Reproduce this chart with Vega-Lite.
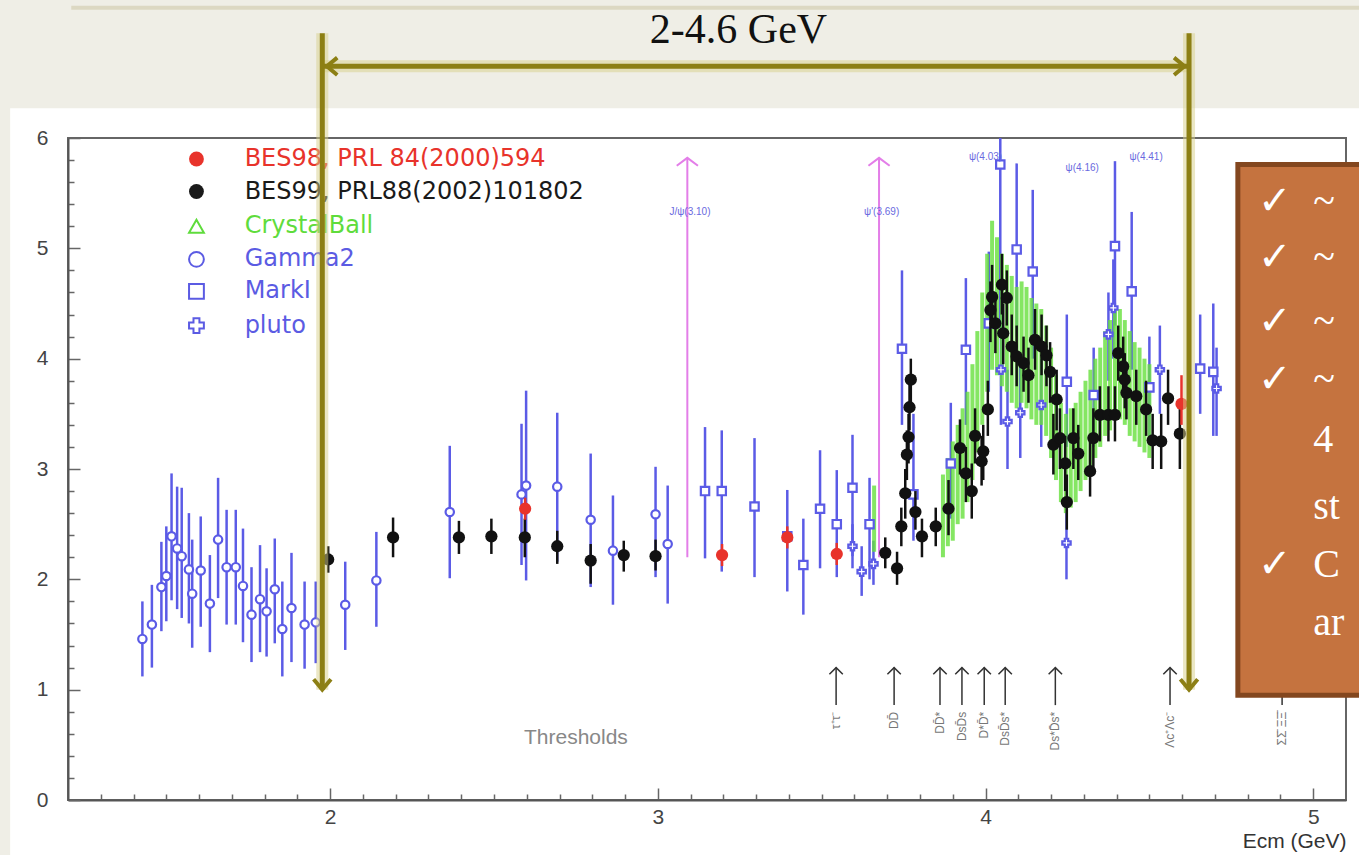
{
  "$schema": "https://vega.github.io/schema/vega-lite/v6.json",
  "width": 1278,
  "height": 662,
  "autosize": {"type": "none"},
  "padding": {"left": 68, "top": 138, "right": 13, "bottom": 55},
  "background": "#efeee6",
  "config": {"view": {"stroke": null}, "font": "Liberation Sans", "axis": {"labelOverlap": false, "labelSeparation": 0}},
  "datasets": {
    "pts": [
      {"s":"Gamma2","x":1.427,"y":1.46,"lo":1.12,"hi":1.80},
      {"s":"Gamma2","x":1.456,"y":1.59,"lo":1.20,"hi":1.95},
      {"s":"Gamma2","x":1.485,"y":1.93,"lo":1.53,"hi":2.34},
      {"s":"Gamma2","x":1.500,"y":2.03,"lo":1.62,"hi":2.48},
      {"s":"Gamma2","x":1.516,"y":2.39,"lo":1.81,"hi":2.96},
      {"s":"Gamma2","x":1.533,"y":2.28,"lo":1.73,"hi":2.84},
      {"s":"Gamma2","x":1.547,"y":2.21,"lo":1.65,"hi":2.83},
      {"s":"Gamma2","x":1.569,"y":2.09,"lo":1.60,"hi":2.60},
      {"s":"Gamma2","x":1.579,"y":1.87,"lo":1.38,"hi":2.36},
      {"s":"Gamma2","x":1.605,"y":2.08,"lo":1.57,"hi":2.57},
      {"s":"Gamma2","x":1.633,"y":1.78,"lo":1.34,"hi":2.22},
      {"s":"Gamma2","x":1.658,"y":2.36,"lo":1.83,"hi":2.92},
      {"s":"Gamma2","x":1.684,"y":2.11,"lo":1.59,"hi":2.63},
      {"s":"Gamma2","x":1.712,"y":2.11,"lo":1.59,"hi":2.63},
      {"s":"Gamma2","x":1.734,"y":1.94,"lo":1.43,"hi":2.46},
      {"s":"Gamma2","x":1.760,"y":1.68,"lo":1.25,"hi":2.11},
      {"s":"Gamma2","x":1.786,"y":1.82,"lo":1.34,"hi":2.31},
      {"s":"Gamma2","x":1.806,"y":1.71,"lo":1.30,"hi":2.10},
      {"s":"Gamma2","x":1.831,"y":1.91,"lo":1.42,"hi":2.37},
      {"s":"Gamma2","x":1.854,"y":1.55,"lo":1.12,"hi":1.98},
      {"s":"Gamma2","x":1.882,"y":1.74,"lo":1.25,"hi":2.24},
      {"s":"Gamma2","x":1.922,"y":1.59,"lo":1.19,"hi":1.98},
      {"s":"Gamma2","x":1.956,"y":1.61,"lo":1.24,"hi":1.98},
      {"s":"Gamma2","x":2.046,"y":1.77,"lo":1.36,"hi":2.16},
      {"s":"Gamma2","x":2.141,"y":1.99,"lo":1.57,"hi":2.43},
      {"s":"Gamma2","x":2.365,"y":2.61,"lo":2.01,"hi":3.21},
      {"s":"Gamma2","x":2.584,"y":2.77,"lo":2.13,"hi":3.41},
      {"s":"Gamma2","x":2.598,"y":2.85,"lo":1.99,"hi":3.71},
      {"s":"Gamma2","x":2.693,"y":2.84,"lo":2.16,"hi":3.51},
      {"s":"Gamma2","x":2.795,"y":2.54,"lo":1.93,"hi":3.14},
      {"s":"Gamma2","x":2.863,"y":2.26,"lo":1.77,"hi":2.76},
      {"s":"Gamma2","x":2.993,"y":2.59,"lo":2.02,"hi":3.02},
      {"s":"Gamma2","x":3.030,"y":2.32,"lo":1.78,"hi":2.85},
      {"s":"MarkI","x":3.144,"y":2.80,"lo":2.19,"hi":3.38},
      {"s":"MarkI","x":3.195,"y":2.80,"lo":2.07,"hi":3.35},
      {"s":"MarkI","x":3.295,"y":2.66,"lo":2.02,"hi":3.28},
      {"s":"MarkI","x":3.395,"y":2.39,"lo":1.89,"hi":2.81},
      {"s":"MarkI","x":3.444,"y":2.13,"lo":1.68,"hi":2.55},
      {"s":"MarkI","x":3.495,"y":2.64,"lo":2.10,"hi":3.17},
      {"s":"MarkI","x":3.546,"y":2.50,"lo":2.02,"hi":2.99},
      {"s":"MarkI","x":3.594,"y":2.83,"lo":2.21,"hi":3.31},
      {"s":"MarkI","x":3.646,"y":2.50,"lo":2.00,"hi":2.92},
      {"s":"MarkI","x":3.745,"y":4.09,"lo":3.40,"hi":4.80},
      {"s":"MarkI","x":3.780,"y":2.77,"lo":2.35,"hi":3.50},
      {"s":"MarkI","x":3.894,"y":3.05,"lo":2.55,"hi":3.60},
      {"s":"MarkI","x":3.940,"y":4.08,"lo":3.40,"hi":4.73},
      {"s":"MarkI","x":4.010,"y":4.32,"lo":3.70,"hi":4.97},
      {"s":"MarkI","x":4.045,"y":5.76,"lo":4.30,"hi":6.00},
      {"s":"MarkI","x":4.095,"y":4.99,"lo":4.20,"hi":5.77},
      {"s":"MarkI","x":4.144,"y":4.79,"lo":4.00,"hi":5.53},
      {"s":"MarkI","x":4.248,"y":3.79,"lo":3.20,"hi":4.40},
      {"s":"MarkI","x":4.330,"y":3.67,"lo":3.20,"hi":4.10},
      {"s":"MarkI","x":4.395,"y":5.02,"lo":4.30,"hi":5.79},
      {"s":"MarkI","x":4.446,"y":4.61,"lo":3.90,"hi":5.33},
      {"s":"MarkI","x":4.500,"y":3.74,"lo":3.30,"hi":4.20},
      {"s":"MarkI","x":4.655,"y":3.91,"lo":3.50,"hi":4.40},
      {"s":"MarkI","x":4.695,"y":3.88,"lo":3.30,"hi":4.50},
      {"s":"pluto","x":3.594,"y":2.30,"lo":2.10,"hi":2.50},
      {"s":"pluto","x":3.622,"y":2.07,"lo":1.85,"hi":2.30},
      {"s":"pluto","x":3.658,"y":2.14,"lo":1.95,"hi":2.35},
      {"s":"pluto","x":4.047,"y":3.90,"lo":3.40,"hi":4.40},
      {"s":"pluto","x":4.067,"y":3.43,"lo":3.00,"hi":3.90},
      {"s":"pluto","x":4.106,"y":3.51,"lo":3.10,"hi":3.95},
      {"s":"pluto","x":4.170,"y":3.58,"lo":3.20,"hi":4.00},
      {"s":"pluto","x":4.247,"y":2.33,"lo":2.00,"hi":2.65},
      {"s":"pluto","x":4.375,"y":4.22,"lo":3.80,"hi":4.60},
      {"s":"pluto","x":4.390,"y":4.46,"lo":4.00,"hi":4.90},
      {"s":"pluto","x":4.532,"y":3.90,"lo":3.50,"hi":4.30},
      {"s":"pluto","x":4.705,"y":3.73,"lo":3.30,"hi":4.10},
      {"s":"CrystalBall","x":3.660,"y":2.50,"lo":2.25,"hi":2.85},
      {"s":"CrystalBall","x":3.870,"y":2.55,"lo":2.20,"hi":2.95},
      {"s":"CrystalBall","x":3.885,"y":2.70,"lo":2.30,"hi":3.10},
      {"s":"CrystalBall","x":3.900,"y":2.80,"lo":2.35,"hi":3.25},
      {"s":"CrystalBall","x":3.915,"y":2.95,"lo":2.50,"hi":3.40},
      {"s":"CrystalBall","x":3.930,"y":3.05,"lo":2.55,"hi":3.55},
      {"s":"CrystalBall","x":3.945,"y":3.20,"lo":2.70,"hi":3.70},
      {"s":"CrystalBall","x":3.960,"y":3.40,"lo":2.90,"hi":3.95},
      {"s":"CrystalBall","x":3.975,"y":3.70,"lo":3.15,"hi":4.25},
      {"s":"CrystalBall","x":3.990,"y":4.00,"lo":3.40,"hi":4.60},
      {"s":"CrystalBall","x":4.005,"y":4.30,"lo":3.70,"hi":4.95},
      {"s":"CrystalBall","x":4.020,"y":4.55,"lo":3.90,"hi":5.25},
      {"s":"CrystalBall","x":4.035,"y":4.50,"lo":3.85,"hi":5.10},
      {"s":"CrystalBall","x":4.050,"y":4.35,"lo":3.75,"hi":4.95},
      {"s":"CrystalBall","x":4.065,"y":4.25,"lo":3.70,"hi":4.85},
      {"s":"CrystalBall","x":4.080,"y":4.15,"lo":3.60,"hi":4.75},
      {"s":"CrystalBall","x":4.095,"y":4.10,"lo":3.55,"hi":4.65},
      {"s":"CrystalBall","x":4.110,"y":4.15,"lo":3.60,"hi":4.70},
      {"s":"CrystalBall","x":4.125,"y":4.10,"lo":3.55,"hi":4.65},
      {"s":"CrystalBall","x":4.140,"y":4.00,"lo":3.45,"hi":4.55},
      {"s":"CrystalBall","x":4.155,"y":3.95,"lo":3.40,"hi":4.50},
      {"s":"CrystalBall","x":4.170,"y":3.90,"lo":3.40,"hi":4.45},
      {"s":"CrystalBall","x":4.185,"y":3.80,"lo":3.30,"hi":4.30},
      {"s":"CrystalBall","x":4.200,"y":3.60,"lo":3.10,"hi":4.10},
      {"s":"CrystalBall","x":4.215,"y":3.35,"lo":2.90,"hi":3.85},
      {"s":"CrystalBall","x":4.230,"y":3.15,"lo":2.70,"hi":3.60},
      {"s":"CrystalBall","x":4.245,"y":3.05,"lo":2.60,"hi":3.50},
      {"s":"CrystalBall","x":4.260,"y":3.10,"lo":2.65,"hi":3.55},
      {"s":"CrystalBall","x":4.275,"y":3.15,"lo":2.70,"hi":3.60},
      {"s":"CrystalBall","x":4.290,"y":3.25,"lo":2.80,"hi":3.70},
      {"s":"CrystalBall","x":4.305,"y":3.35,"lo":2.90,"hi":3.80},
      {"s":"CrystalBall","x":4.320,"y":3.45,"lo":3.00,"hi":3.90},
      {"s":"CrystalBall","x":4.335,"y":3.55,"lo":3.10,"hi":4.00},
      {"s":"CrystalBall","x":4.350,"y":3.65,"lo":3.20,"hi":4.10},
      {"s":"CrystalBall","x":4.365,"y":3.75,"lo":3.30,"hi":4.25},
      {"s":"CrystalBall","x":4.380,"y":3.85,"lo":3.35,"hi":4.35},
      {"s":"CrystalBall","x":4.395,"y":3.95,"lo":3.45,"hi":4.45},
      {"s":"CrystalBall","x":4.410,"y":3.95,"lo":3.45,"hi":4.45},
      {"s":"CrystalBall","x":4.425,"y":3.85,"lo":3.40,"hi":4.35},
      {"s":"CrystalBall","x":4.440,"y":3.75,"lo":3.30,"hi":4.25},
      {"s":"CrystalBall","x":4.455,"y":3.70,"lo":3.25,"hi":4.15},
      {"s":"CrystalBall","x":4.470,"y":3.65,"lo":3.20,"hi":4.10},
      {"s":"CrystalBall","x":4.485,"y":3.55,"lo":3.15,"hi":4.00},
      {"s":"CrystalBall","x":4.500,"y":3.50,"lo":3.10,"hi":3.95},
      {"s":"BES99","x":1.994,"y":2.18,"lo":2.06,"hi":2.30},
      {"s":"BES99","x":2.192,"y":2.38,"lo":2.20,"hi":2.56},
      {"s":"BES99","x":2.393,"y":2.38,"lo":2.23,"hi":2.53},
      {"s":"BES99","x":2.492,"y":2.39,"lo":2.23,"hi":2.55},
      {"s":"BES99","x":2.594,"y":2.38,"lo":2.20,"hi":2.55},
      {"s":"BES99","x":2.693,"y":2.30,"lo":2.14,"hi":2.44},
      {"s":"BES99","x":2.795,"y":2.17,"lo":1.96,"hi":2.32},
      {"s":"BES99","x":2.896,"y":2.22,"lo":2.07,"hi":2.35},
      {"s":"BES99","x":2.993,"y":2.21,"lo":2.08,"hi":2.36},
      {"s":"BES99","x":3.694,"y":2.24,"lo":2.10,"hi":2.38},
      {"s":"BES99","x":3.730,"y":2.10,"lo":1.95,"hi":2.25},
      {"s":"BES99","x":3.743,"y":2.48,"lo":2.30,"hi":2.65},
      {"s":"BES99","x":3.755,"y":2.78,"lo":2.55,"hi":3.00},
      {"s":"BES99","x":3.760,"y":3.13,"lo":2.90,"hi":3.35},
      {"s":"BES99","x":3.765,"y":3.29,"lo":3.05,"hi":3.50},
      {"s":"BES99","x":3.768,"y":3.56,"lo":3.35,"hi":3.80},
      {"s":"BES99","x":3.772,"y":3.81,"lo":3.60,"hi":4.00},
      {"s":"BES99","x":3.786,"y":2.61,"lo":2.45,"hi":2.80},
      {"s":"BES99","x":3.806,"y":2.39,"lo":2.20,"hi":2.55},
      {"s":"BES99","x":3.848,"y":2.48,"lo":2.30,"hi":2.65},
      {"s":"BES99","x":3.887,"y":2.64,"lo":2.40,"hi":2.90},
      {"s":"BES99","x":3.922,"y":3.19,"lo":2.95,"hi":3.45},
      {"s":"BES99","x":3.940,"y":2.96,"lo":2.70,"hi":3.20},
      {"s":"BES99","x":3.958,"y":2.80,"lo":2.55,"hi":3.05},
      {"s":"BES99","x":3.968,"y":3.30,"lo":3.05,"hi":3.55},
      {"s":"BES99","x":3.988,"y":3.07,"lo":2.85,"hi":3.30},
      {"s":"BES99","x":3.993,"y":3.16,"lo":2.90,"hi":3.40},
      {"s":"BES99","x":4.007,"y":3.54,"lo":3.30,"hi":3.80},
      {"s":"BES99","x":4.015,"y":4.44,"lo":4.15,"hi":4.70},
      {"s":"BES99","x":4.020,"y":4.56,"lo":4.30,"hi":4.85},
      {"s":"BES99","x":4.030,"y":4.32,"lo":4.05,"hi":4.60},
      {"s":"BES99","x":4.050,"y":4.67,"lo":4.40,"hi":4.95},
      {"s":"BES99","x":4.054,"y":4.23,"lo":3.95,"hi":4.50},
      {"s":"BES99","x":4.065,"y":4.55,"lo":4.30,"hi":4.80},
      {"s":"BES99","x":4.080,"y":4.11,"lo":3.85,"hi":4.40},
      {"s":"BES99","x":4.095,"y":4.02,"lo":3.75,"hi":4.30},
      {"s":"BES99","x":4.116,"y":3.96,"lo":3.70,"hi":4.20},
      {"s":"BES99","x":4.131,"y":3.85,"lo":3.60,"hi":4.10},
      {"s":"BES99","x":4.151,"y":4.17,"lo":3.90,"hi":4.45},
      {"s":"BES99","x":4.171,"y":4.11,"lo":3.85,"hi":4.40},
      {"s":"BES99","x":4.186,"y":4.03,"lo":3.75,"hi":4.30},
      {"s":"BES99","x":4.197,"y":3.88,"lo":3.60,"hi":4.15},
      {"s":"BES99","x":4.207,"y":3.22,"lo":2.95,"hi":3.50},
      {"s":"BES99","x":4.217,"y":3.63,"lo":3.35,"hi":3.90},
      {"s":"BES99","x":4.227,"y":3.28,"lo":3.00,"hi":3.55},
      {"s":"BES99","x":4.243,"y":3.05,"lo":2.80,"hi":3.30},
      {"s":"BES99","x":4.248,"y":2.70,"lo":2.45,"hi":2.95},
      {"s":"BES99","x":4.268,"y":3.28,"lo":3.00,"hi":3.55},
      {"s":"BES99","x":4.283,"y":3.14,"lo":2.90,"hi":3.40},
      {"s":"BES99","x":4.319,"y":2.98,"lo":2.75,"hi":3.25},
      {"s":"BES99","x":4.329,"y":3.28,"lo":3.00,"hi":3.55},
      {"s":"BES99","x":4.349,"y":3.49,"lo":3.25,"hi":3.75},
      {"s":"BES99","x":4.375,"y":3.49,"lo":3.25,"hi":3.75},
      {"s":"BES99","x":4.395,"y":3.49,"lo":3.25,"hi":3.75},
      {"s":"BES99","x":4.405,"y":4.05,"lo":3.80,"hi":4.30},
      {"s":"BES99","x":4.420,"y":3.93,"lo":3.70,"hi":4.20},
      {"s":"BES99","x":4.425,"y":3.81,"lo":3.55,"hi":4.05},
      {"s":"BES99","x":4.430,"y":3.69,"lo":3.45,"hi":3.95},
      {"s":"BES99","x":4.460,"y":3.66,"lo":3.40,"hi":3.90},
      {"s":"BES99","x":4.490,"y":3.54,"lo":3.30,"hi":3.80},
      {"s":"BES99","x":4.510,"y":3.26,"lo":3.00,"hi":3.50},
      {"s":"BES99","x":4.536,"y":3.25,"lo":3.00,"hi":3.50},
      {"s":"BES99","x":4.557,"y":3.64,"lo":3.40,"hi":3.90},
      {"s":"BES99","x":4.593,"y":3.32,"lo":3.00,"hi":3.60},
      {"s":"BES98","x":2.595,"y":2.64,"lo":2.54,"hi":2.74},
      {"s":"BES98","x":3.196,"y":2.22,"lo":2.12,"hi":2.32},
      {"s":"BES98","x":3.395,"y":2.38,"lo":2.28,"hi":2.48},
      {"s":"BES98","x":3.546,"y":2.23,"lo":2.13,"hi":2.33},
      {"s":"BES98","x":4.598,"y":3.59,"lo":3.40,"hi":3.85}
    ],
    "thr": [
      {"x":3.544,"lab":"τ⁺τ⁻"},
      {"x":3.721,"lab":"DD̄"},
      {"x":3.861,"lab":"DD̄*"},
      {"x":3.928,"lab":"DsD̄s"},
      {"x":3.996,"lab":"D*D̄*"},
      {"x":4.060,"lab":"DsD̄s*"},
      {"x":4.213,"lab":"Ds*D̄s*"},
      {"x":4.563,"lab":"Λc⁺Λc⁻"},
      {"x":4.905,"lab":"ΣΣ̄ ΞΞ̄"}
    ],
    "leg": [
      {"s":"BES98","label":"BES98, PRL 84(2000)594","ly":5.81,"f":"y"},
      {"s":"BES99","label":"BES99, PRL88(2002)101802","ly":5.515,"f":"y"},
      {"s":"CrystalBall","label":"CrystalBall","ly":5.2,"f":"n"},
      {"s":"Gamma2","label":"Gamma2","ly":4.9,"f":"n"},
      {"s":"MarkI","label":"MarkI","ly":4.61,"f":"n"},
      {"s":"pluto","label":"pluto","ly":4.3,"f":"n"}
    ]
  },
  "layer": [
    {
      "data": {"values": [{"x":1.0235,"x2":5.25,"y":-0.75,"y2":6.27}]},
      "mark": {"type": "rect", "fill": "#ffffff"},
      "encoding": {
        "x": {"field": "x", "type": "quantitative",
          "scale": {"domain": [1.2, 5.1], "nice": false, "zero": false},
          "axis": {
            "title": "Ecm (GeV)", "titleAnchor": "end", "titleAlign": "right", "titleFontWeight": "normal",
            "titleFontSize": 21, "titleColor": "#333", "titlePadding": 3, "titleFont": "Liberation Sans",
            "tickCount": 200,
            "values": [1.3,1.4,1.5,1.6,1.7,1.8,1.9,2,2.1,2.2,2.3,2.4,2.5,2.6,2.7,2.8,2.9,3,3.1,3.2,3.3,3.4,3.5,3.6,3.7,3.8,3.9,4,4.1,4.2,4.3,4.4,4.5,4.6,4.7,4.8,4.9,5],
            "labelExpr": "abs(datum.value-round(datum.value))<0.001 ? format(datum.value,'d') : ''",
            "labelFontSize": {"condition": {"test": "abs(datum.value-round(datum.value))<0.001", "value": 21}, "value": 1},
            "labelColor": "#444", "labelFont": "Liberation Sans", "labelPadding": 18,
            "labelOverlap": false, "labelFlush": false, "labelSeparation": 0,
            "tickColor": "#666", "tickWidth": 1.5,
            "tickSize": {"condition": {"test": "abs(datum.value-round(datum.value))<0.001", "value": -12}, "value": -6},
            "domainColor": "#555", "domainWidth": 2, "grid": false, "zindex": 2
          }},
        "x2": {"field": "x2"},
        "y": {"field": "y", "type": "quantitative",
          "scale": {"domain": [0, 6], "nice": false, "zero": false},
          "axis": {
            "title": null,
            "tickCount": 200,
            "values": [0,0.2,0.4,0.6,0.8,1,1.2,1.4,1.6,1.8,2,2.2,2.4,2.6,2.8,3,3.2,3.4,3.6,3.8,4,4.2,4.4,4.6,4.8,5,5.2,5.4,5.6,5.8,6],
            "labelExpr": "abs(datum.value-round(datum.value))<0.001 ? format(datum.value,'d') : ''",
            "labelFontSize": {"condition": {"test": "abs(datum.value-round(datum.value))<0.001", "value": 21}, "value": 1},
            "labelColor": "#444", "labelFont": "Liberation Sans", "labelPadding": 32,
            "labelOverlap": false, "labelFlush": false, "labelSeparation": 0,
            "tickColor": "#666", "tickWidth": 1.5,
            "tickSize": {"condition": {"test": "abs(datum.value-round(datum.value))<0.001", "value": -12}, "value": -6},
            "domainColor": "#555", "domainWidth": 2, "grid": false, "zindex": 2
          }},
        "y2": {"field": "y2"}
      }
    },
    {
      "data": {"values": [{"x":1.21,"x2":5.25,"y":7.18}]},
      "mark": {"type": "rule", "color": "#dcd8c2", "strokeWidth": 4},
      "encoding": {"x": {"field": "x", "type": "quantitative"}, "x2": {"field": "x2"}, "y": {"field": "y", "type": "quantitative"}}
    },
    {
      "data": {"values": [{"x":1.2,"x2":5.1,"y":0,"y2":6}]},
      "mark": {"type": "rect", "fillOpacity": 0, "stroke": "#666", "strokeWidth": 2},
      "encoding": {"x": {"field": "x", "type": "quantitative"}, "x2": {"field": "x2"}, "y": {"field": "y", "type": "quantitative"}, "y2": {"field": "y2"}}
    },
    {
      "data": {"values": [{"x":3.09,"lo":2.2,"hi":5.82},{"x":3.675,"lo":2.2,"hi":5.82}]},
      "layer": [
        {"mark": {"type": "rule", "color": "#e37ee8", "strokeWidth": 2},
         "encoding": {"x": {"field": "x", "type": "quantitative"}, "y": {"field": "lo", "type": "quantitative"}, "y2": {"field": "hi"}}},
        {"mark": {"type": "point", "shape": "M-1,0.75L0,0L1,0.75", "filled": false, "color": "#e37ee8", "strokeWidth": 2, "size": 450, "opacity": 1},
         "encoding": {"x": {"field": "x", "type": "quantitative"}, "y": {"field": "hi", "type": "quantitative"}}}
      ]
    },
    {
      "data": {"name": "pts"},
      "transform": [{"filter": "datum.s==='Gamma2' || datum.s==='MarkI' || datum.s==='pluto'"}],
      "mark": {"type": "rule", "color": "#5b5be6", "strokeWidth": 2.5},
      "encoding": {"x": {"field": "x", "type": "quantitative"}, "y": {"field": "lo", "type": "quantitative"}, "y2": {"field": "hi"}}
    },
    {
      "data": {"name": "pts"},
      "transform": [{"filter": "datum.s==='CrystalBall'"}],
      "mark": {"type": "rule", "color": "#66e03c", "strokeWidth": 4, "opacity": 0.8},
      "encoding": {"x": {"field": "x", "type": "quantitative"}, "y": {"field": "lo", "type": "quantitative"}, "y2": {"field": "hi"}}
    },
    {
      "data": {"name": "pts"},
      "transform": [{"filter": "datum.s==='Gamma2' || datum.s==='MarkI' || datum.s==='pluto'"}],
      "mark": {"type": "point", "filled": true, "fill": "#ffffff", "stroke": "#5b5be6", "strokeWidth": 2.2, "size": 70, "opacity": 1},
      "encoding": {
        "x": {"field": "x", "type": "quantitative"},
        "y": {"field": "y", "type": "quantitative"},
        "shape": {"field": "s", "type": "nominal", "legend": null,
          "scale": {"domain": ["BES98","BES99","CrystalBall","Gamma2","MarkI","pluto"], "range": ["circle","circle","triangle-up","circle","square","cross"]}}
      }
    },
    {
      "data": {"name": "pts"},
      "transform": [{"filter": "datum.s==='BES99'"}],
      "layer": [
        {"mark": {"type": "rule", "color": "#111", "strokeWidth": 2.5},
         "encoding": {"x": {"field": "x", "type": "quantitative"}, "y": {"field": "lo", "type": "quantitative"}, "y2": {"field": "hi"}}},
        {"mark": {"type": "point", "shape": "circle", "filled": true, "color": "#111", "size": 150, "opacity": 1},
         "encoding": {"x": {"field": "x", "type": "quantitative"}, "y": {"field": "y", "type": "quantitative"}}}
      ]
    },
    {
      "data": {"name": "pts"},
      "transform": [{"filter": "datum.s==='BES98'"}],
      "layer": [
        {"mark": {"type": "rule", "color": "#e8332b", "strokeWidth": 2.5},
         "encoding": {"x": {"field": "x", "type": "quantitative"}, "y": {"field": "lo", "type": "quantitative"}, "y2": {"field": "hi"}}},
        {"mark": {"type": "point", "shape": "circle", "filled": true, "color": "#e8332b", "size": 150, "opacity": 1},
         "encoding": {"x": {"field": "x", "type": "quantitative"}, "y": {"field": "y", "type": "quantitative"}}}
      ]
    },
    {
      "data": {"name": "thr"},
      "layer": [
        {"mark": {"type": "rule", "color": "#333", "strokeWidth": 1.5},
         "encoding": {"x": {"field": "x", "type": "quantitative"}, "y": {"datum": 0.86}, "y2": {"datum": 1.2}}},
        {"mark": {"type": "point", "shape": "M-1,1L0,0L1,1", "filled": false, "color": "#333", "strokeWidth": 1.5, "size": 180, "opacity": 1},
         "encoding": {"x": {"field": "x", "type": "quantitative"}, "y": {"datum": 1.2}}},
        {"mark": {"type": "text", "angle": 270, "align": "right", "baseline": "middle", "fontSize": 12, "color": "#777", "font": "Liberation Sans"},
         "encoding": {"x": {"field": "x", "type": "quantitative"}, "y": {"datum": 0.8}, "text": {"field": "lab"}}}
      ]
    },
    {
      "data": {"values": [{"x":2.75,"y":0.56,"t":"Thresholds"}]},
      "mark": {"type": "text", "fontSize": 21, "color": "#888", "font": "Liberation Sans", "baseline": "middle"},
      "encoding": {"x": {"field": "x", "type": "quantitative"}, "y": {"field": "y", "type": "quantitative"}, "text": {"field": "t"}}
    },
    {
      "data": {"values": [
        {"x":3.098,"y":5.33,"t":"J/ψ(3.10)","a":"left"},
        {"x":3.683,"y":5.33,"t":"ψ'(3.69)","a":"left"},
        {"x":4.0,"y":5.83,"t":"ψ(4.03)","a":"center"},
        {"x":4.295,"y":5.73,"t":"ψ(4.16)","a":"center"},
        {"x":4.49,"y":5.83,"t":"ψ(4.41)","a":"center"}
      ]},
      "mark": {"type": "text", "fontSize": 10, "color": "#6a6ae0", "font": "Liberation Sans", "baseline": "middle"},
      "encoding": {"x": {"field": "x", "type": "quantitative"}, "y": {"field": "y", "type": "quantitative"}, "text": {"field": "t"}, "align": {"field": "a"}}
    },
    {
      "data": {"name": "leg"},
      "layer": [
        {"transform": [{"filter": "datum.f==='y'"}],
         "mark": {"type": "point", "shape": "circle", "filled": true, "size": 220, "opacity": 1},
         "encoding": {"x": {"datum": 1.592}, "y": {"field": "ly", "type": "quantitative"},
           "color": {"field": "s", "type": "nominal", "legend": null,
             "scale": {"domain": ["BES98","BES99","CrystalBall","Gamma2","MarkI","pluto"], "range": ["#e8332b","#1a1a1a","#5fdc3c","#5b5be3","#5b5be3","#5b5be3"]}}}},
        {"transform": [{"filter": "datum.f==='n'"}],
         "mark": {"type": "point", "filled": false, "size": 220, "strokeWidth": 2, "opacity": 1},
         "encoding": {"x": {"datum": 1.592}, "y": {"field": "ly", "type": "quantitative"},
           "shape": {"field": "s", "type": "nominal", "legend": null},
           "color": {"field": "s", "type": "nominal", "legend": null}}},
        {"mark": {"type": "text", "align": "left", "baseline": "middle", "fontSize": 24, "font": "DejaVu Sans"},
         "encoding": {"x": {"datum": 1.739}, "y": {"field": "ly", "type": "quantitative"}, "text": {"field": "label"},
           "color": {"field": "s", "type": "nominal", "legend": null}}}
      ]
    },
    {
      "data": {"values": [
        {"x":1.976,"x2":1.976,"y":6.95,"y2":1.0},
        {"x":4.621,"x2":4.621,"y":6.95,"y2":1.0},
        {"x":1.976,"x2":4.621,"y":6.65,"y2":6.65}
      ]},
      "layer": [
        {"mark": {"type": "rule", "color": "#d8d08a", "strokeWidth": 12, "opacity": 0.5},
         "encoding": {"x": {"field": "x", "type": "quantitative"}, "x2": {"field": "x2"}, "y": {"field": "y", "type": "quantitative"}, "y2": {"field": "y2"}}},
        {"mark": {"type": "rule", "color": "#8c7f14", "strokeWidth": 5},
         "encoding": {"x": {"field": "x", "type": "quantitative"}, "x2": {"field": "x2"}, "y": {"field": "y", "type": "quantitative"}, "y2": {"field": "y2"}}}
      ]
    },
    {
      "data": {"values": [
        {"x":1.976,"y":1.0,"sh":"M-1,-1.2L0,0L1,-1.2"},
        {"x":4.621,"y":1.0,"sh":"M-1,-1.2L0,0L1,-1.2"},
        {"x":1.99,"y":6.65,"sh":"M1.2,-1L0,0L1.2,1"},
        {"x":4.607,"y":6.65,"sh":"M-1.2,-1L0,0L-1.2,1"}
      ]},
      "mark": {"type": "point", "filled": false, "color": "#8c7f14", "strokeWidth": 4, "size": 300, "opacity": 1},
      "encoding": {"x": {"field": "x", "type": "quantitative"}, "y": {"field": "y", "type": "quantitative"},
        "shape": {"field": "sh", "type": "nominal", "scale": null, "legend": null}}
    },
    {
      "data": {"values": [{"x":4.77,"x2":5.3,"y":5.76,"y2":0.95}]},
      "mark": {"type": "rect", "fill": "#c5733f", "stroke": "#83471f", "strokeWidth": 5},
      "encoding": {"x": {"field": "x", "type": "quantitative"}, "x2": {"field": "x2"}, "y": {"field": "y", "type": "quantitative"}, "y2": {"field": "y2"}}
    },
    {
      "data": {"values": [
        {"x":4.83,"y":5.42,"t":"✓"},{"x":4.83,"y":4.91,"t":"✓"},{"x":4.83,"y":4.33,"t":"✓"},{"x":4.83,"y":3.81,"t":"✓"},{"x":4.83,"y":2.13,"t":"✓"},
        {"x":5.0,"y":5.42,"t":"~"},{"x":5.0,"y":4.91,"t":"~"},{"x":5.0,"y":4.33,"t":"~"},{"x":5.0,"y":3.81,"t":"~"},
        {"x":5.0,"y":3.26,"t":"4"},{"x":5.0,"y":2.66,"t":"st"},{"x":5.0,"y":2.13,"t":"C"},{"x":5.0,"y":1.6,"t":"ar"}
      ]},
      "mark": {"type": "text", "align": "left", "baseline": "middle", "fontSize": 40, "color": "#ffffff", "font": "Liberation Serif"},
      "encoding": {"x": {"field": "x", "type": "quantitative"}, "y": {"field": "y", "type": "quantitative"}, "text": {"field": "t"}}
    },
    {
      "data": {"values": [{"x":3.246,"y":6.98,"t":"2-4.6 GeV"}]},
      "mark": {"type": "text", "align": "center", "baseline": "middle", "fontSize": 42, "color": "#111", "font": "Liberation Serif"},
      "encoding": {"x": {"field": "x", "type": "quantitative"}, "y": {"field": "y", "type": "quantitative"}, "text": {"field": "t"}}
    }
  ]
}
